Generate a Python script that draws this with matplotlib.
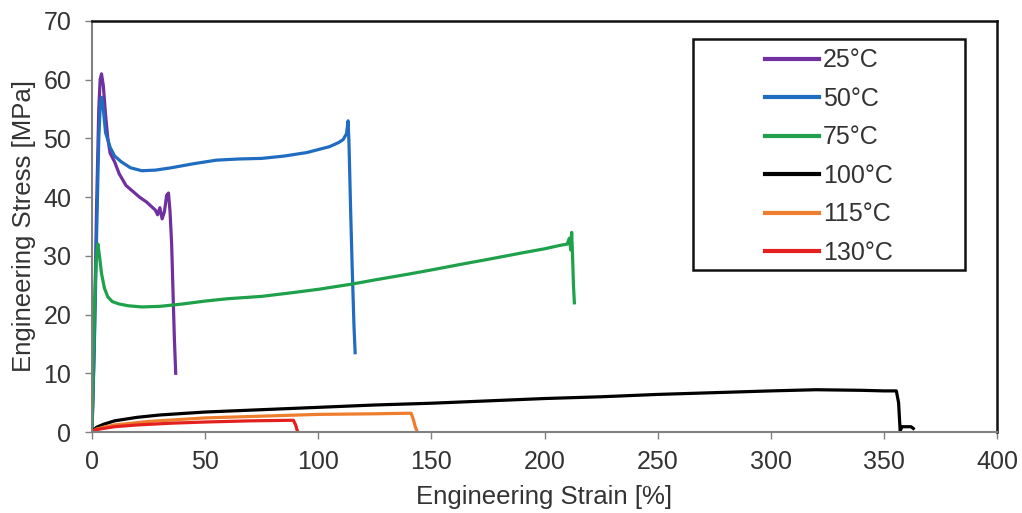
import matplotlib
matplotlib.use("Agg")
import matplotlib.pyplot as plt
from matplotlib.patches import Rectangle

plt.rcParams['font.family'] = ['Liberation Sans', 'DejaVu Sans']

labels = ['25°C', '50°C', '75°C', '100°C', '115°C', '130°C']
colors = ['#7030A0', '#1F6CC0', '#1EA14A', '#000000', '#EE7D2E', '#E4201E']

strain_25 = [0, 1, 2, 3, 3.6, 4.2, 5, 6, 7, 8, 10, 12, 15, 18, 21, 24, 26, 28, 29, 30, 31, 32, 33, 33.8, 34.5, 35.2, 35.8, 36.4, 37]
stress_25 = [0, 15, 38, 55, 60, 61, 59, 54, 50, 47.5, 46, 44, 42, 41, 40, 39.2, 38.5, 37.8, 37, 38.2, 36.3, 37.5, 40.3, 40.7, 37.5, 32, 24, 16, 10]

strain_50 = [0, 1, 2, 3, 3.7, 4.3, 5, 6, 8, 10, 13, 17, 22, 28, 35, 45, 55, 65, 75, 85, 95, 105, 109, 111, 112.5, 113.2, 113.6, 114.3, 115, 115.8, 116.3]
stress_50 = [0, 14, 33, 50, 56, 57, 55, 51, 48.5, 47, 46, 45, 44.5, 44.6, 45, 45.7, 46.3, 46.5, 46.6, 47, 47.6, 48.6, 49.3, 49.8, 50.8, 53, 49, 38, 28, 18, 13.5]

strain_75 = [0, 0.5, 1, 1.8, 2.6, 3.3, 4.2, 5.5, 7, 9, 12, 16, 22, 30, 40, 50, 60, 75, 90, 100, 115, 125, 140, 150, 165, 175, 190, 200, 207, 210, 211, 211.6, 212, 212.4, 212.8, 213.2]
stress_75 = [0, 10, 20, 29, 32, 30, 27, 24.5, 23, 22.2, 21.8, 21.5, 21.3, 21.4, 21.8, 22.3, 22.7, 23.1, 23.8, 24.3, 25.2, 25.9, 26.9, 27.6, 28.7, 29.4, 30.5, 31.2, 31.8, 32.0, 33.0, 31.0, 34.0, 30.0, 25.0, 22.0]

strain_100 = [0, 2, 5, 10, 20, 30, 50, 75, 100, 125, 150, 175, 200, 225, 250, 275, 300, 320, 340, 350, 355.5, 356.5, 357.2, 358, 360, 362, 363]
stress_100 = [0, 0.8, 1.3, 1.9, 2.5, 2.9, 3.4, 3.8, 4.2, 4.6, 4.9, 5.3, 5.7, 6.0, 6.4, 6.7, 7.0, 7.2, 7.1, 7.0, 7.0, 5.0, 0.2, 0.9, 0.9, 0.9, 0.6]

strain_115 = [0, 2, 5, 10, 25, 50, 75, 100, 125, 141, 142, 142.8, 143.5]
stress_115 = [0, 0.5, 0.8, 1.2, 1.8, 2.4, 2.7, 3.0, 3.1, 3.2, 2.2, 1.0, 0.3]

strain_130 = [0, 2, 5, 10, 20, 35, 50, 70, 89, 90, 90.6, 91]
stress_130 = [0, 0.4, 0.6, 0.9, 1.2, 1.5, 1.7, 1.9, 2.0, 1.2, 0.4, 0]

series = [(strain_25, stress_25), (strain_50, stress_50), (strain_75, stress_75),
          (strain_100, stress_100), (strain_115, stress_115), (strain_130, stress_130)]

xticks = [0, 50, 100, 150, 200, 250, 300, 350, 400]
yticks = [0, 10, 20, 30, 40, 50, 60, 70]

fig = plt.figure(figsize=(10.22, 5.13), dpi=100)
ax = fig.add_axes([92/1022, 1-432/513, (997-92)/1022, (432-21)/513])

for (x, y), c, lab in zip(series, colors, labels):
    ax.plot(x, y, color=c, lw=2.3, label=lab, solid_joinstyle='round')

ax.set_xlim(0, 400)
ax.set_ylim(0, 70)
ax.set_xticks(xticks)
ax.set_yticks(yticks)
ax.tick_params(axis='both', direction='out', length=5, width=1, color='#808080',
               labelsize=18, labelcolor='#333333', pad=8)
ax.tick_params(axis='y', pad=10)
ax.spines['left'].set_color('#808080')
ax.spines['bottom'].set_color('#808080')
ax.spines['left'].set_linewidth(1.5)
ax.spines['bottom'].set_linewidth(1.5)
ax.spines['top'].set_color('#111111')
ax.spines['right'].set_color('#111111')
ax.spines['top'].set_linewidth(1.8)
ax.spines['right'].set_linewidth(1.8)

ax.set_xlabel('Engineering Strain [%]', fontsize=18.5, color='#333333', labelpad=8)
ax.set_ylabel('Engineering Stress [MPa]', fontsize=18.5, color='#333333', labelpad=5)

leg = ax.legend(loc='center', bbox_to_anchor=(0.8144, 0.670), frameon=False,
                fontsize=18, handlelength=2.16, handletextpad=0.16, labelspacing=0.58,
                borderaxespad=0)
for t in leg.get_texts():
    t.set_color('#333333')
for h in leg.get_lines():
    h.set_linewidth(3)

ax.add_patch(Rectangle((0.664, 0.395), 0.301, 0.561, transform=ax.transAxes,
                       fill=False, edgecolor='#111111', lw=1.8, zorder=5))

fig.savefig('out.png', dpi=100)
